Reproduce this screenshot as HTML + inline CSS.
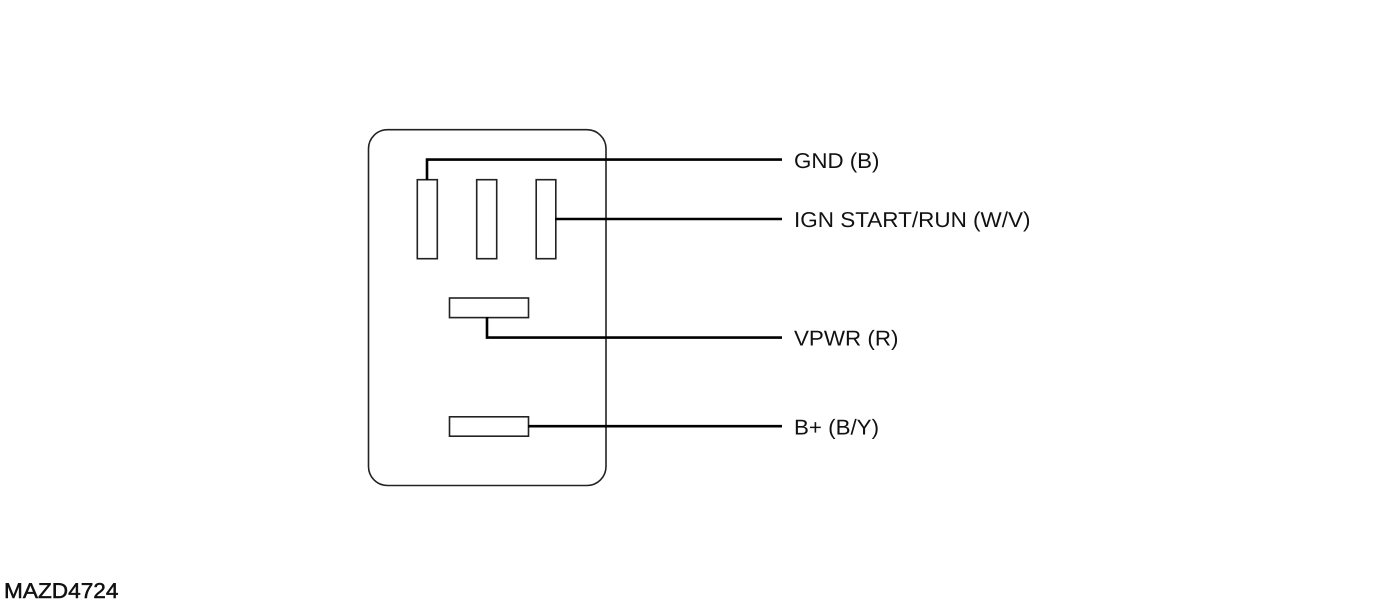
<!DOCTYPE html>
<html>
<head>
<meta charset="utf-8">
<style>
html,body{margin:0;padding:0;background:#fff;width:1373px;height:602px;overflow:hidden}
svg{display:block}
text{font-family:"Liberation Sans",Arial,sans-serif;fill:#111;text-rendering:geometricPrecision}
</style>
</head>
<body>
<svg width="1373" height="602" viewBox="0 0 1373 602" xmlns="http://www.w3.org/2000/svg">
<rect width="1373" height="602" fill="#fff"/>
<g fill="none" stroke="#222" stroke-width="1.6">
<rect x="368.5" y="129.7" width="237.5" height="355.8" rx="19" ry="19"/>
<rect x="417.3" y="179.7" width="20" height="79"/>
<rect x="476.7" y="179.7" width="20" height="79"/>
<rect x="536.2" y="179.7" width="19.6" height="79"/>
<rect x="449.5" y="298" width="79" height="19.6"/>
<rect x="449.5" y="416.8" width="79" height="19.4"/>
</g>
<g fill="none" stroke="#000" stroke-width="2.6">
<path d="M427 180V159.6H782"/>
<path d="M555 219H782"/>
<path d="M487 317V337.6H782"/>
<path d="M528 426.2H782"/>
</g>
<g font-size="21.5">
<text x="794" y="168" textLength="85.5" lengthAdjust="spacingAndGlyphs">GND (B)</text>
<text x="794" y="227" textLength="236.5" lengthAdjust="spacingAndGlyphs">IGN START/RUN (W/V)</text>
<text x="794" y="345.5" textLength="104.5" lengthAdjust="spacingAndGlyphs">VPWR (R)</text>
<text x="794" y="434.5" textLength="85" lengthAdjust="spacingAndGlyphs">B+ (B/Y)</text>
</g>
<text x="4" y="598" font-size="21.5" stroke="#111" stroke-width="0.5" textLength="114.5" lengthAdjust="spacingAndGlyphs">MAZD4724</text>
</svg>
</body>
</html>
